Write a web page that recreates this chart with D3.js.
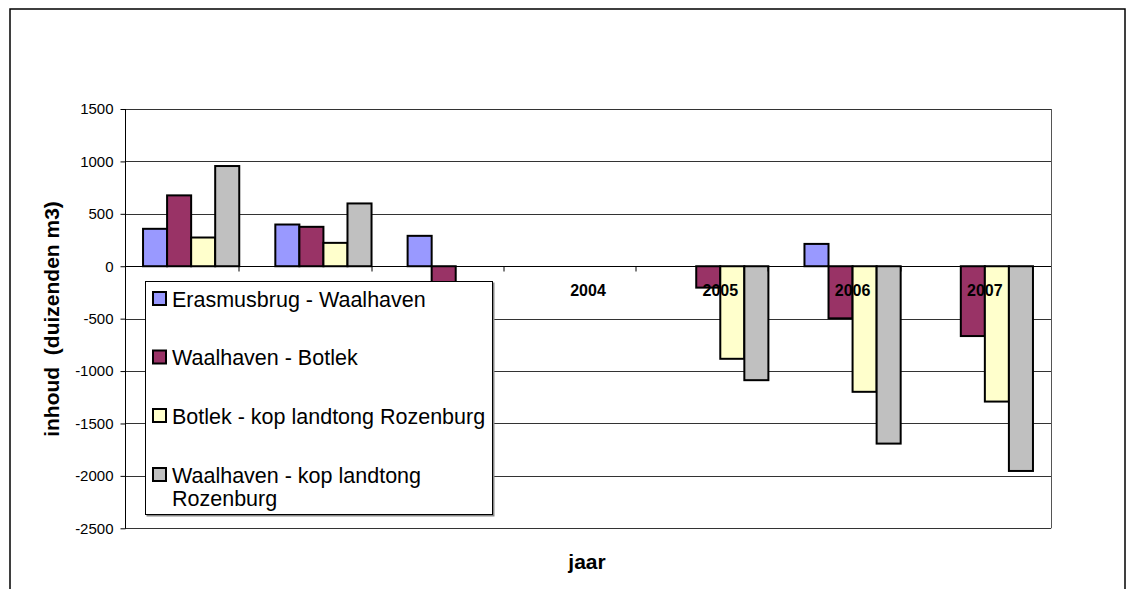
<!DOCTYPE html>
<html><head><meta charset="utf-8">
<script src="https://cdn.jsdelivr.net/npm/d3@7"></script>
<style>
html,body{margin:0;padding:0;background:#fff;}
svg{display:block;font-family:"Liberation Sans",Arial,sans-serif;}
</style></head>
<body><svg id="c" width="1128" height="589"></svg>
<script>
const categories = ['2001','2002','2003','2004','2005','2006','2007'];
const seriesNames = ['Erasmusbrug - Waalhaven','Waalhaven - Botlek','Botlek - kop landtong Rozenburg','Waalhaven - kop landtong Rozenburg'];
const erasmusWaalhaven = [357, 398, 290, null, null, 213, null];
const waalhavenBotlek = [676, 376, -300, null, -204, -497, -666];
const botlekKop = [274, 223, null, null, -883, -1198, -1291];
const waalhavenKop = [956, 599, null, null, -1087, -1692, -1953];
const yTicks = [1500, 1000, 500, 0, -500, -1000, -1500, -2000, -2500];
const colors = ['#9999FF','#993366','#FFFFCC','#C0C0C0'];
const seriesValues = [erasmusWaalhaven, waalhavenBotlek, botlekKop, waalhavenKop];

const svg = d3.select('#c');
svg.append('rect').attr('x',10).attr('y',9).attr('width',1115).attr('height',600)
  .attr('fill','#fff').attr('stroke','#000').attr('stroke-width',1.5);

const L = 125, R = 1051, T = 109, B = 528.3;
const y = d3.scaleLinear().domain([-2500,1500]).range([B,T]);
const x0 = d3.scaleBand().domain(categories).range([L,R]).paddingInner(1.5/5.5).paddingOuter(0.75/5.5);
const x1 = d3.scaleBand().domain(d3.range(4)).range([0,x0.bandwidth()]);

const LG = {x:145.5, y:281.5, w:347, h:233};

svg.append('g').selectAll('line').data(yTicks).join('line')
  .attr('x1',L).attr('x2',R).attr('y1',d=>Math.round(y(d))+0.5).attr('y2',d=>Math.round(y(d))+0.5)
  .attr('stroke','#333').attr('stroke-width',1);
svg.append('line').attr('x1',R+0.5).attr('x2',R+0.5).attr('y1',T).attr('y2',B)
  .attr('stroke','#555').attr('stroke-width',1);

const yAxis = d3.axisLeft(y).tickValues(yTicks).tickSize(5).tickPadding(7).tickFormat(d=>String(d));
const gy = svg.append('g').attr('transform',`translate(${L+0.5},0)`).call(yAxis);
gy.select('.domain').attr('stroke','#000').attr('d',`M0,${T}V${B}`);
gy.selectAll('.tick line').attr('stroke','#000');
gy.selectAll('.tick text').attr('font-size',15).attr('fill','#000').attr('font-family','"Liberation Sans",Arial,sans-serif');

const bars = svg.append('g');
seriesValues.forEach((vals, si) => {
  bars.selectAll(null).data(categories.map((c,i)=>({c, v: vals[i]})).filter(d=>d.v!==null)).join('rect')
    .attr('x', d=>x0(d.c)+x1(si))
    .attr('y', d=>Math.min(y(d.v), y(0)))
    .attr('width', x1.bandwidth())
    .attr('height', d=>Math.abs(y(d.v)-y(0)))
    .attr('fill', colors[si]).attr('stroke','#000').attr('stroke-width',2);
});

const zy = Math.round(y(0))+0.5;
svg.append('line').attr('x1',L).attr('x2',R).attr('y1',zy).attr('y2',zy).attr('stroke','#000').attr('stroke-width',1);
svg.append('g').selectAll('line').data(categories.slice(1)).join('line')
  .attr('x1',d=>Math.round(x0(d)-x0.step()*0.75/5.5*2)).attr('x2',d=>Math.round(x0(d)-x0.step()*0.75/5.5*2))
  .attr('y1',zy).attr('y2',zy+5).attr('stroke','#000');
const labelY = y(0)+24;
const visibleCats = categories.filter(c=>{
  const cx = x0(c)+x0.bandwidth()/2;
  return !(cx > LG.x && cx < LG.x+LG.w && labelY > LG.y && labelY < LG.y+LG.h);
});
svg.append('g').selectAll('text').data(visibleCats).join('text')
  .attr('x',d=>x0(d)+x0.bandwidth()/2).attr('y',labelY)
  .attr('dy','0.35em').attr('text-anchor','middle').attr('font-size',16).attr('font-weight','bold')
  .text(d=>d);

svg.append('text').attr('transform','translate(52,319) rotate(-90)').attr('dy','0.35em')
  .attr('text-anchor','middle').attr('font-size',21).attr('font-weight','bold').attr('xml:space','preserve')
  .text('inhoud  (duizenden m3)');
svg.append('text').attr('x',587).attr('y',562).attr('dy','0.35em')
  .attr('text-anchor','middle').attr('font-size',21).attr('font-weight','bold').text('jaar');

const lg = svg.append('g');
lg.append('rect').attr('x',LG.x+1).attr('y',LG.y+1).attr('width',LG.w+1).attr('height',LG.h+1).attr('fill','#888');
lg.append('rect').attr('x',LG.x).attr('y',LG.y).attr('width',LG.w).attr('height',LG.h)
  .attr('fill','#fff').attr('stroke','#000').attr('stroke-width',1);
const rowY = [299, 357.5, 416, 475];
const labelLines = [['Erasmusbrug - Waalhaven'],['Waalhaven - Botlek'],['Botlek - kop landtong Rozenburg'],['Waalhaven - kop landtong','Rozenburg']];
seriesNames.forEach((n,i)=>{
  lg.append('rect').attr('x',153).attr('y',rowY[i]-7).attr('width',13).attr('height',13)
    .attr('fill',colors[i]).attr('stroke','#000').attr('stroke-width',2);
  const t = lg.append('text').attr('x',172).attr('y',rowY[i]).attr('font-size',21.5).attr('fill','#000');
  labelLines[i].forEach((ln,k)=>{
    t.append('tspan').attr('x',172).attr('dy', k===0 ? '0.35em' : '23.5').text(ln);
  });
});
</script></body></html>
